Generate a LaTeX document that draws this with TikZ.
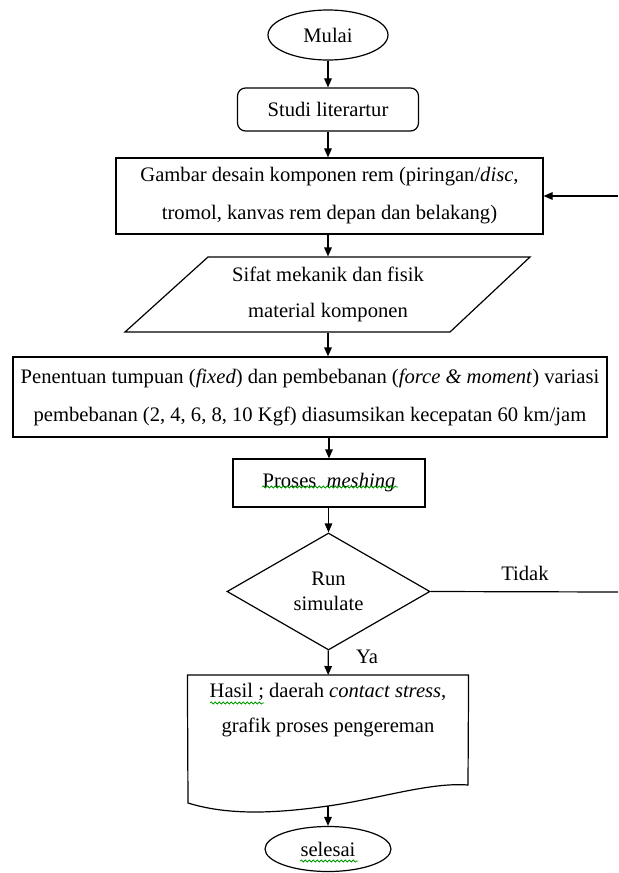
\documentclass[tikz,border=0pt]{standalone}
\usepackage{fontspec}
\setmainfont{Liberation Serif}
\usetikzlibrary{shapes.geometric}
\usetikzlibrary{arrows.meta}
\usetikzlibrary{decorations.pathmorphing}

\begin{document}
\begin{tikzpicture}[>={Triangle[length=4.5pt,width=3.8pt]},x=0.5pt,y=-0.5pt,line width=0.6pt,
    every node/.style={font=\fontsize{10.3}{19}\selectfont,align=center},
    terminal/.style={ellipse,draw,inner sep=0pt},
    process/.style={rectangle,draw,inner sep=0pt},
    decision/.style={diamond,draw,inner sep=0pt,shape aspect=1.7},
    squiggle/.style={green!60!black,line width=0.4pt,decorate,
        decoration={snake,amplitude=0.5pt,segment length=2pt}}]
    % page size of the reference
    \useasboundingbox (0,0) rectangle (618,873);
    % draw the boxes
    \node[terminal,minimum width=60pt,minimum height=25pt] (mulai) at (328,35) {Mulai};
    \node[process,rounded corners=4pt,minimum width=90.5pt,minimum height=21.5pt] (studi) at (328,109.5) {Studi literartur};
    \node[process,minimum width=213.5pt,minimum height=38pt] (gambar) at (329.5,196)
        {Gambar desain komponen rem (piringan/\textit{disc},\\ tromol, kanvas rem depan dan belakang)};
    \node[minimum height=37.5pt,inner sep=0pt,font=\fontsize{10.3}{18}\selectfont] (sifat) at (328,294.5)
        {Sifat mekanik dan fisik\\ material komponen};
    \draw (208,257) -- (530,257) -- (450,332) -- (125,332) -- cycle;
    \node[process,minimum width=297pt,minimum height=40pt] (penentuan) at (310,397)
        {Penentuan tumpuan (\textit{fixed}) dan pembebanan (\textit{force \& moment}) variasi\\
         pembebanan (2, 4, 6, 8, 10 Kgf) diasumsikan kecepatan 60 km/jam};
    \node[process,minimum width=96pt,minimum height=24pt] (meshing) at (329,483) {Proses\ \ \textit{meshing}};
    \node[decision,minimum width=101.5pt,minimum height=58.5pt,font=\fontsize{10.3}{12.5}\selectfont] (simulasi) at (328.5,591.5)
        {Run\\ simulate};
    \node[anchor=north,minimum width=140pt,inner ysep=4pt,font=\fontsize{10.3}{17.5}\selectfont] (hasil) at (328,675)
        {Hasil ; daerah \textit{contact stress},\\ grafik proses pengereman};
    \coordinate (wave) at (328,806);
    \draw (hasil.north west) -- (hasil.north east) -- (468,785)
        .. controls (430,782) and (378,799) .. (wave)
        .. controls (278,813) and (230,816) .. (188,803) -- cycle;
    \node[terminal,minimum width=63pt,minimum height=22.5pt] (selesai) at (328,849) {selesai};
    % labels of the decision
    \node (tidak) at (525,573) {Tidak};
    \node (ya) at (367,657) {Ya};
    % free ends at the right border
    \coordinate (kanan1) at (618,592);
    \coordinate (kanan2) at (618,196);
    % draw the connectors
    \draw[->] (mulai) -- (studi);
    \draw[->] (studi) -- (studi |- gambar.north);
    \draw[->] (studi |- gambar.south) -- (sifat);
    \draw[->] (sifat) -- (sifat |- penentuan.north);
    \draw[->] (meshing |- penentuan.south) -- (meshing);
    \draw[->] (meshing.south -| simulasi) -- (simulasi);
    \draw[->] (simulasi) -- (hasil);
    \draw[->] (wave) -- (selesai);
    \draw (simulasi.east) -- (kanan1);
    \draw[->] (kanan2) -- (gambar.east);
    % spelling marks under the words
    \draw[squiggle] (262,487) -- (398,487);
    \draw[squiggle] (210,703) -- (264,703);
    \draw[squiggle] (300,861) -- (358,861);
\end{tikzpicture}
\end{document}
